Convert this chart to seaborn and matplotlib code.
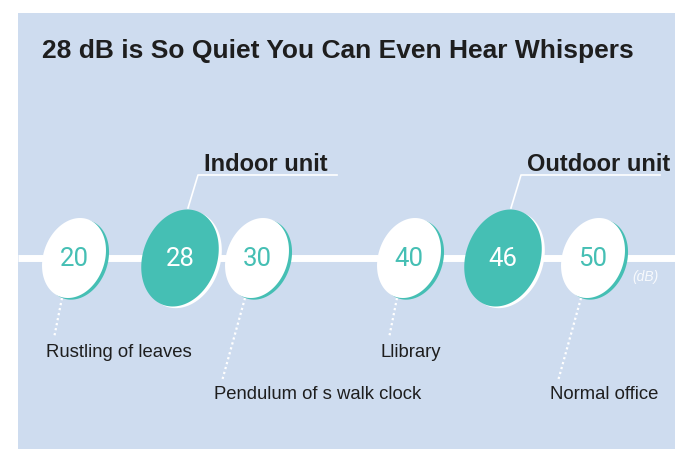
import numpy as np
import pandas as pd
import matplotlib
matplotlib.use("Agg")
import matplotlib.pyplot as plt
import matplotlib.patheffects as pe
from matplotlib.path import Path
from matplotlib.patches import Rectangle
import seaborn as sns

# data
levels = [20, 28, 30, 40, 46, 50]
is_unit = [False, True, False, False, True, False]
ref_levels = [20, 30, 40, 50]
ref_names = ["Rustling of leaves", "Pendulum of s walk clock", "Llibrary", "Normal office"]
unit_levels = [28, 46]
unit_names = ["Indoor unit", "Outdoor unit"]
title = "28 dB is So Quiet You Can Even Hear Whispers"

# colours
BG = "#cedcef"
TEAL = "#45bfb4"
INK = "#1e1e1e"

plt.rcParams['font.family'] = ['Liberation Sans', 'DejaVu Sans']

# the scale is not linear in the original: dB -> pixel column
scale_db = [0, 20, 28, 30, 40, 46, 50, 70]
scale_px = [-226, 74, 180, 257, 409, 503, 593, 893]


def fwd(v):
    return np.interp(v, scale_db, scale_px)


def inv(p):
    return np.interp(p, scale_px, scale_db)


def shifted(db, dx):
    # move a point some pixels sideways through the axis scale
    return inv(fwd(np.asarray(db, dtype=float)) + np.asarray(dx, dtype=float))


# tilted ellipse marker
t = np.linspace(0, 2 * np.pi, 120)
a, b = 41.0, 30.5
th = np.deg2rad(-20)
ex, ey = b * np.cos(t), a * np.sin(t)
verts = np.column_stack([ex * np.cos(th) - ey * np.sin(th), ex * np.sin(th) + ey * np.cos(th)])
ellipse = Path(verts, closed=True)

df = pd.DataFrame({"level": levels, "unit": is_unit})
df["y"] = 258

fig = plt.figure(figsize=(6.75, 4.49), dpi=100)
fig.patch.set_facecolor("white")
fig.patches.append(Rectangle((18 / 675, 0), 657 / 675, 436 / 449, transform=fig.transFigure,
                             facecolor=BG, edgecolor="none", zorder=-10))
ax = fig.add_axes([0, 0, 1, 1])
ax.set_facecolor("none")

# white circles with teal rim, teal circles with white rim
plain = df[~df["unit"]]
sns.scatterplot(data=plain, x="level", y="y", marker=ellipse, s=3318, color="white",
                edgecolor="none", linewidth=0, ax=ax, zorder=3)
ax.collections[-1].set_path_effects([
    pe.SimplePatchShadow(offset=(2.2, -1.2), shadow_rgbFace=TEAL, alpha=1), pe.Normal()])
units = df[df["unit"]]
sns.scatterplot(data=units, x="level", y="y", marker=ellipse, s=4875, color=TEAL,
                edgecolor="none", linewidth=0, ax=ax, zorder=3)
ax.collections[-1].set_path_effects([
    pe.SimplePatchShadow(offset=(2.2, -1.2), shadow_rgbFace="white", alpha=1), pe.Normal()])

ax.set_xscale("function", functions=(fwd, inv))
ax.set_xlim(inv(0), inv(675))
ax.set_ylim(449, 0)
ax.axis("off")

# the white baseline
ax.plot([inv(18), inv(675)], [258, 258], color="white", lw=5, zorder=1, solid_capstyle="butt")

num_font = ['Roboto', 'DejaVu Sans']
for lv, u in zip(levels, is_unit):
    ax.text(lv, 259, str(lv), ha="center", va="center", fontsize=18.5, family=num_font,
            fontweight="normal", color="white" if u else TEAL, zorder=5)

ax.text(shifted(levels[-1], 39), 277, "(dB)", ha="left", va="center", fontsize=10,
        style="italic", color="white", alpha=0.85)

# reference sounds under the line
for i, (lv, name) in enumerate(zip(ref_levels, ref_names)):
    long = i % 2 == 1
    dx_end = -35 if long else -20
    y_end = 381 if long else 338
    ax.plot(shifted([lv, lv], [-12, dx_end]), [298, y_end], color="white", lw=1.6,
            linestyle=(0, (1, 1.3)), zorder=2)
    ax.text(shifted(lv, -43 if long else -28), 399 if long else 357, name, ha="left",
            va="baseline", fontsize=13.3, color=INK)

# unit callouts above
for lv, name in zip(unit_levels, unit_names):
    ax.plot(shifted([lv, lv, lv], [8, 18, 157]), [208, 175, 175], color="white", lw=1.2, zorder=2)
    ax.text(shifted(lv, 24), 171, name, ha="left", va="baseline", fontsize=17,
            fontweight="bold", color=INK)

fig.text(42 / 675, 1 - 58 / 449, title, ha="left", va="baseline", fontsize=19,
         fontweight="bold", color=INK)

fig.savefig("out.png", dpi=100)
